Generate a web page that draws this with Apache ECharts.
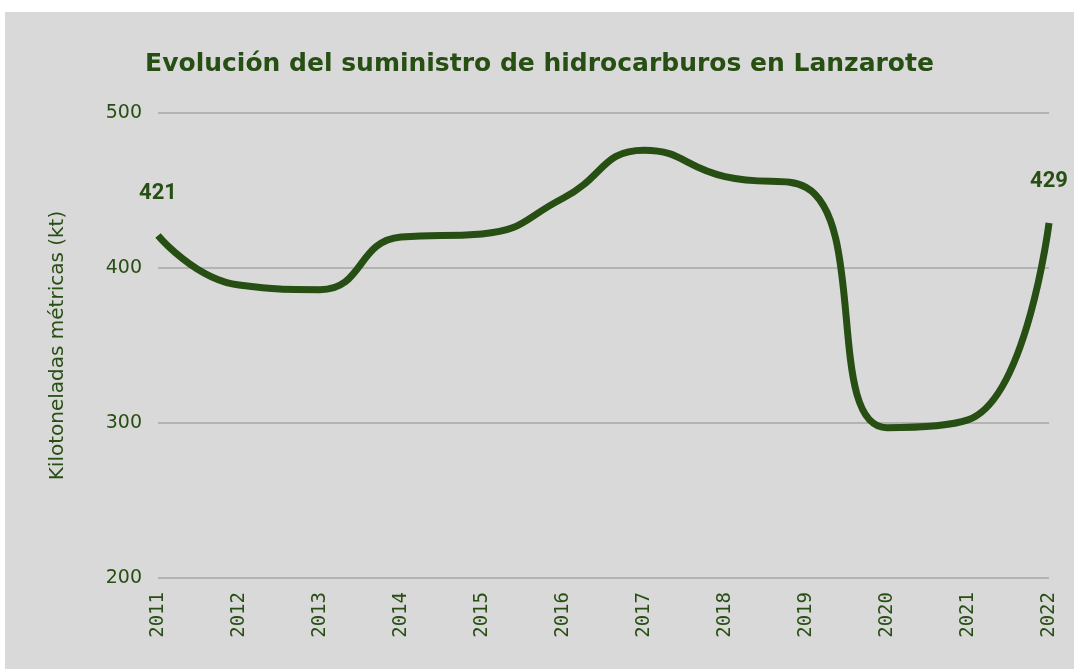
<!DOCTYPE html>
<html>
<head>
<meta charset="utf-8">
<title>Suministro de hidrocarburos Lanzarote</title>
<script src="https://cdn.jsdelivr.net/npm/echarts@6/dist/echarts.min.js"></script>
<style>
	html, body { margin: 0; padding: 0; background: #ffffff; }
	#chart { position: absolute; left: 5px; top: 12px; width: 1069px; height: 657px; }
</style>
</head>
<body>
<div id="chart"></div>
<script>
// datos (kilotoneladas métricas)
var years = ['2011', '2012', '2013', '2014', '2015', '2016', '2017', '2018', '2019', '2020', '2021', '2022'];
var supply = [421, 389, 386, 420, 422, 445, 476, 459, 452, 297, 302, 429];
var yTicks = [200, 300, 400, 500];

var green = '#274e13';

function buildData(){
	var out = [];
	for (var i = 0; i < supply.length; i++) {
		var showLabel = (i == 0 || i == supply.length - 1);
		out.push({
			value: supply[i],
			label: { show: showLabel }
		});
	}
	return out;
}

var myChart = echarts.init(document.getElementById('chart'));
var option = {
	backgroundColor: '#d9d9d9',
	animation: false,
	title: {
		text: 'Evolución del suministro de hidrocarburos en Lanzarote',
		left: 'center',
		top: 35,
		textStyle: {
			color: green,
			fontFamily: 'DejaVu Sans',
			fontWeight: 'bold',
			fontSize: 25
		}
	},
	grid: {
		left: 153,
		right: 25,
		top: 101,
		bottom: 91
	},
	xAxis: {
		type: 'category',
		boundaryGap: false,
		data: years,
		axisLine: { show: false },
		axisTick: { show: false },
		axisLabel: {
			rotate: 90,
			margin: 14,
			color: green,
			fontFamily: 'DejaVu Sans Mono',
			fontSize: 19
		}
	},
	yAxis: {
		type: 'value',
		min: yTicks[0],
		max: yTicks[yTicks.length - 1],
		interval: 100,
		name: 'Kilotoneladas métricas (kt)',
		nameLocation: 'middle',
		nameGap: 90,
		nameTextStyle: {
			color: green,
			fontFamily: 'DejaVu Sans',
			fontSize: 20
		},
		axisLine: { show: false },
		axisTick: { show: false },
		axisLabel: {
			margin: 16,
			color: green,
			fontFamily: 'DejaVu Sans',
			fontSize: 19
		},
		splitLine: {
			lineStyle: { color: '#a6a6a6', width: 1.5 }
		}
	},
	series: [{
		type: 'line',
		smooth: 0.5,
		showSymbol: true,
		symbol: 'circle',
		symbolSize: 0,
		lineStyle: { color: green, width: 7 },
		itemStyle: { color: green },
		label: {
			position: 'top',
			distance: 31,
			color: green,
			fontFamily: 'Roboto',
			fontWeight: 'bold',
			fontSize: 22
		},
		data: buildData()
	}]
};

myChart.setOption(option);
window.addEventListener("resize", function(){
	myChart.resize();
});
</script>
</body>
</html>
